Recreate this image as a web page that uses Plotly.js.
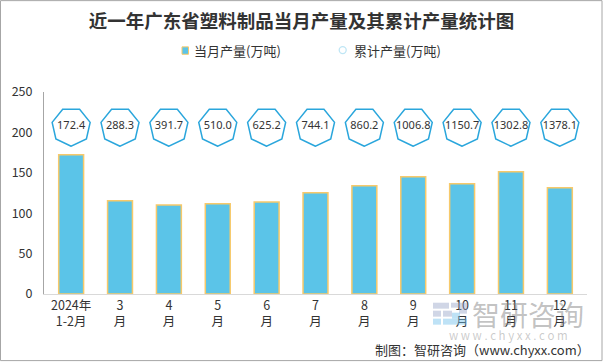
<!DOCTYPE html>
<html><head><meta charset="utf-8">
<script src="https://cdn.plot.ly/plotly-3.0.1.min.js"></script>
<style>html,body{margin:0;padding:0;background:#fff}#c{width:603px;height:362px}</style>
</head><body><div id="c"></div>
<script>
const categories = ["2024年<br>1-2月","3<br>月","4<br>月","5<br>月","6<br>月","7<br>月","8<br>月","9<br>月","10<br>月","11<br>月","12<br>月"];
const monthly = [172.4, 115.3, 110.3, 111.6, 114.0, 125.2, 133.9, 145.0, 136.4, 151.2, 131.4];
const cumulative = [172.4, 288.3, 391.7, 510.0, 625.2, 744.1, 860.2, 1006.8, 1150.7, 1302.8, 1378.1];
const yTicks = [0, 50, 100, 150, 200, 250];
const LABEL_ROW = 207; // height (axis units) of the cumulative label row

const W = 603, H = 362, L = 44, RM = 16, T = 92, B = 67.7;
const PW = W - L - RM, PH = H - T - B;
const px = v => (v - L) / PW;          // page pixel x -> paper
const py = v => (H - B - v) / PH;      // page pixel y -> paper

const R = 19.5;
function heptPath(){
  let p = '';
  for (let k = 0; k < 7; k++){
    const a = Math.PI/2 + k*2*Math.PI/7;
    p += (k===0?'M':'L') + (R*Math.cos(a)).toFixed(2) + ',' + (-R*Math.sin(a)).toFixed(2);
  }
  return p + 'Z';
}
const shapes = categories.map(c => ({
  type:'path', xref:'x', yref:'y', xsizemode:'pixel', ysizemode:'pixel',
  xanchor:c, yanchor:LABEL_ROW, path:heptPath(),
  line:{color:'#2aa6dc', width:1.5}, fillcolor:'#ffffff', layer:'below'
}));
// outer frame
shapes.push({type:'rect', xref:'paper', yref:'paper', x0:px(0.5), x1:px(602), y0:py(361), y1:py(0.5), line:{color:'#a6a6a6', width:1}});
// legend symbols
shapes.push({type:'rect', xref:'paper', yref:'paper', x0:px(182), x1:px(188.5), y0:py(54.2), y1:py(46.8), fillcolor:'#5bc4e8', line:{color:'#f7c96a', width:1}});
shapes.push({type:'circle', xref:'paper', yref:'paper', x0:px(339.2), x1:px(346.2), y0:py(53.5), y1:py(46.5), fillcolor:'rgba(0,0,0,0)', line:{color:'#bfe6f5', width:1.3}});
// watermark logo (approximate)
const wm1 = 'rgba(150,165,200,0.45)', wm2 = 'rgba(110,190,235,0.45)';
[[433,303,449,309,wm1],[451,303,467,308,wm1],[459,308,467,314,wm1],[433,311,441,317,wm1],[443,311,452,317,wm1],[433,319,441,325,wm2],[443,319,467,325,wm2],[452,313,460,319,wm2]]
  .forEach(r => shapes.push({type:'rect', xref:'paper', yref:'paper', x0:px(r[0]), x1:px(r[2]), y0:py(r[3]), y1:py(r[1]), fillcolor:r[4], line:{width:0}, layer:'above'}));

const traces = [
  {type:'bar', x:categories, y:monthly, name:'当月产量(万吨)',
   marker:{color:'#5bc4e8', line:{color:'#f7c96a', width:1.5}}, hoverinfo:'y'},
  {type:'scatter', mode:'text', x:categories, y:cumulative.map(()=>LABEL_ROW),
   text:cumulative.map(v=>v.toFixed(1)), textposition:'middle center', name:'累计产量(万吨)',
   textfont:{size:11, color:'#333', family:'Noto Sans, sans-serif'}, cliponaxis:false}
];

const layout = {
  width:W, height:H, margin:{l:L, r:RM, t:T, b:B},
  paper_bgcolor:'#fff', plot_bgcolor:'#fff',
  font:{family:'Noto Sans CJK SC, sans-serif', color:'#333', size:12},
  title:{text:'<b>近一年广东省塑料制品当月产量及其累计产量统计图</b>', x:0.5, xanchor:'center', y:1-21.5/H, yanchor:'middle',
    font:{size:18.5, family:'Noto Sans CJK SC, serif', color:'#333'}},
  showlegend:false,
  bargap:0.49,
  xaxis:{type:'category', showline:true, linecolor:'#d9d9d9', linewidth:1, ticks:'', tickfont:{size:12.5, color:'#333'}, showgrid:false, fixedrange:true},
  yaxis:{range:[0,250], tickvals:yTicks, showline:true, linecolor:'#a6a6a6', linewidth:1, ticks:'', showgrid:false, zeroline:false,
    tickfont:{size:12.5, color:'#333'}, ticklabelstandoff:8},
  shapes:shapes,
  annotations:[
    {xref:'paper', yref:'paper', x:px(192), y:py(50.7), xanchor:'left', yanchor:'middle', text:'当月产量(万吨)', showarrow:false, font:{size:13, color:'#333'}},
    {xref:'paper', yref:'paper', x:px(352), y:py(50.7), xanchor:'left', yanchor:'middle', text:'累计产量(万吨)', showarrow:false, font:{size:13, color:'#333'}},
    {xref:'paper', yref:'paper', x:px(528), y:py(314), xanchor:'center', yanchor:'middle', text:'智研咨询', showarrow:false, font:{size:28, color:'rgba(120,120,120,0.45)'}},
    {xref:'paper', yref:'paper', x:px(508), y:py(335.5), xanchor:'center', yanchor:'middle', text:'w w w . c h y x x . c o m', showarrow:false, font:{size:11.5, color:'rgba(140,140,140,0.45)'}},
    {xref:'paper', yref:'paper', x:px(592), y:py(350), xanchor:'right', yanchor:'middle', text:'制图：智研咨询（www.chyxx.com）', showarrow:false, font:{size:13, color:'#333'}}
  ]
};
Plotly.newPlot('c', traces, layout, {displayModeBar:false, staticPlot:true});
</script></body></html>
